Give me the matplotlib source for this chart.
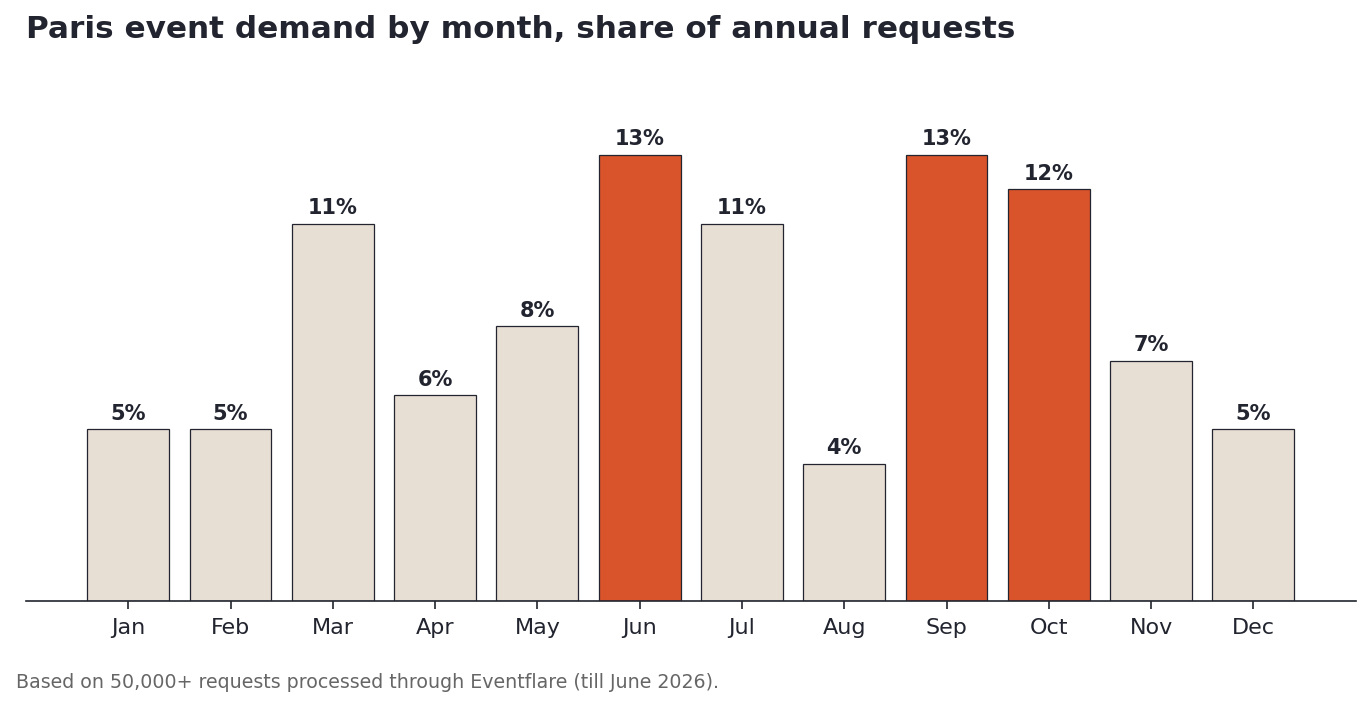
import numpy as np
import matplotlib.pyplot as plt

months = ['Jan', 'Feb', 'Mar', 'Apr', 'May', 'Jun', 'Jul', 'Aug', 'Sep', 'Oct', 'Nov', 'Dec']
share = [5, 5, 11, 6, 8, 13, 11, 4, 13, 12, 7, 5]
highlight = ['Jun', 'Sep', 'Oct']

dark = '#22252f'
base_col = '#e7ded4'
hi_col = '#d9532b'

fig = plt.figure(figsize=(13.7, 7.07), dpi=100)
ax = fig.add_axes([0.019, 0.150, 0.9705, 0.7255])

x = np.arange(len(months))
colors = [hi_col if m in highlight else base_col for m in months]
bars = ax.bar(x, share, width=0.8, color=colors, edgecolor=dark, linewidth=0.9)

# value labels on top of each bar
for xi, v in zip(x, share):
	ax.text(xi, v + 0.16, f'{v}%', ha='center', va='bottom',
		fontsize=15, fontweight='bold', color=dark)

ax.set_xlim(-1, 12)
ax.set_ylim(0, 14.95)
ax.set_xticks(x)
ax.set_xticklabels(months, fontsize=16, color=dark)
ax.set_yticks([])
for s in ['top', 'right', 'left']:
	ax.spines[s].set_visible(False)
ax.spines['bottom'].set_color(dark)
ax.spines['bottom'].set_linewidth(1.2)
ax.tick_params(axis='x', length=6, width=1.2, color=dark, pad=6)

fig.text(0.019, 0.958, 'Paris event demand by month, share of annual requests',
	fontsize=22.4, fontweight='bold', color=dark, ha='left', va='center')
fig.text(0.012, 0.035, 'Based on 50,000+ requests processed through Eventflare (till June 2026).',
	fontsize=13.65, color='#666666', ha='left', va='center')

fig.savefig('out.png', dpi=100)
